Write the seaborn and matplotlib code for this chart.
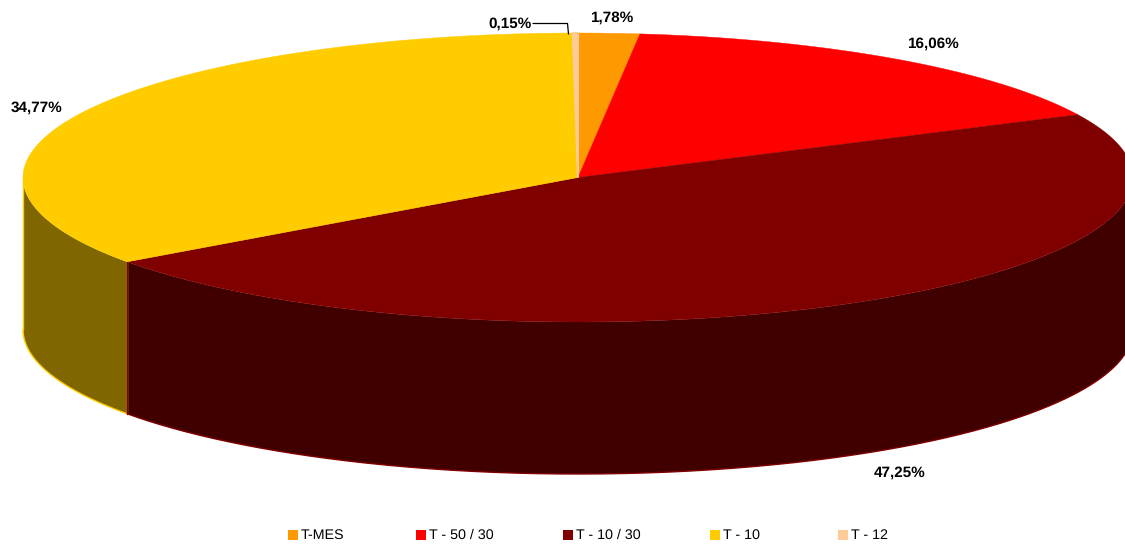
import numpy as np
import matplotlib
matplotlib.use("Agg")
import matplotlib.pyplot as plt
from matplotlib.patches import Rectangle
import seaborn as sns

# Share of each product, clockwise from the top of the pie
categories = ["T-MES", "T - 50 / 30", "T - 10 / 30", "T - 10", "T - 12"]
shares = [1.78, 16.06, 47.25, 34.77, 0.15]
share_labels = ["1,78%", "16,06%", "47,25%", "34,77%", "0,15%"]
top_colors = ["#FF9900", "#FF0000", "#800000", "#FFCC00", "#FFCC99"]

# Pie geometry in pixels of the 1125x547 picture
CX, CY = 578, 177.5
RX, RY = 555, 144.5
DEPTH = 152
label_xy = [(611.5, 18), (933, 44), (900, 472.5), (36.5, 108), (510, 24)]
legend_x = [288, 416, 563, 710, 838]

sns.set_theme(style="white")
plt.rcParams["font.family"] = ["Liberation Sans", "DejaVu Sans"]
plt.rcParams["text.hinting"] = "no_hinting"
palette = sns.color_palette(top_colors)


def rim(a, b):
    # points on the top ellipse, angles in degrees clockwise from 12 o'clock
    t = np.radians(np.linspace(a, b, max(int(abs(b - a) * 4), 2)))
    return CX + RX * np.sin(t), CY - RY * np.cos(t)


fig = plt.figure(figsize=(11.25, 5.47), dpi=100)
ax = fig.add_axes([0, 0, 1, 1])

ends = np.cumsum(shares) / np.sum(shares) * 360
starts = np.concatenate([[0], ends[:-1]])

# Side wall first, only the front half of the pie shows it
# reversed so the dark red seam ends up over the yellow one
for a, b, col in list(zip(starts, ends, palette))[::-1]:
    a2, b2 = max(a, 90), min(b, 270)
    if a2 >= b2:
        continue
    x, y = rim(a2, b2)
    side = tuple(c * 0.5 for c in col)
    xs = np.concatenate([x, x[::-1]])
    ys = np.concatenate([y, y[::-1] + DEPTH])
    ax.fill(xs, ys, color=side, lw=0, zorder=1)
    # thin outline in the slice colour
    ax.plot(x, y + DEPTH, color=col, lw=1.0, zorder=2, solid_capstyle="round")
    ax.plot([x[-1], x[-1]], [y[-1], y[-1] + DEPTH], color=col, lw=1.0, zorder=2,
            solid_capstyle="round")
    ax.plot([x[0], x[0]], [y[0], y[0] + DEPTH], color=col, lw=1.0, zorder=2,
            solid_capstyle="round")

# Top faces, the tiny slice gets a wider edge to stay visible
for a, b, col, share in zip(starts, ends, palette, shares):
    x, y = rim(a, b)
    ax.fill(np.r_[CX, x], np.r_[CY, y], facecolor=col, edgecolor=col,
            lw=1.5 if share < 1 else 0.3, zorder=3)

# Value labels
for (lx, ly), txt in zip(label_xy, share_labels):
    ax.text(lx, ly, txt, ha="center", va="center", fontsize=11,
            fontweight="bold", color="black", zorder=5)

# Leader line of the smallest slice
ax.plot([533, 567.5, 568.5], [23.5, 23.5, 34], color="black", lw=0.9, zorder=5)

# Legend row
for lx, name, col in zip(legend_x, categories, palette):
    ax.add_patch(Rectangle((lx, 530), 10, 10, facecolor=col, edgecolor="none"))
    ax.text(lx + 13, 535.5, name, ha="left", va="center", fontsize=10.3, color="black")

ax.set_xlim(0, 1125)
ax.set_ylim(547, 0)
ax.axis("off")
fig.savefig("out.png", dpi=100)
